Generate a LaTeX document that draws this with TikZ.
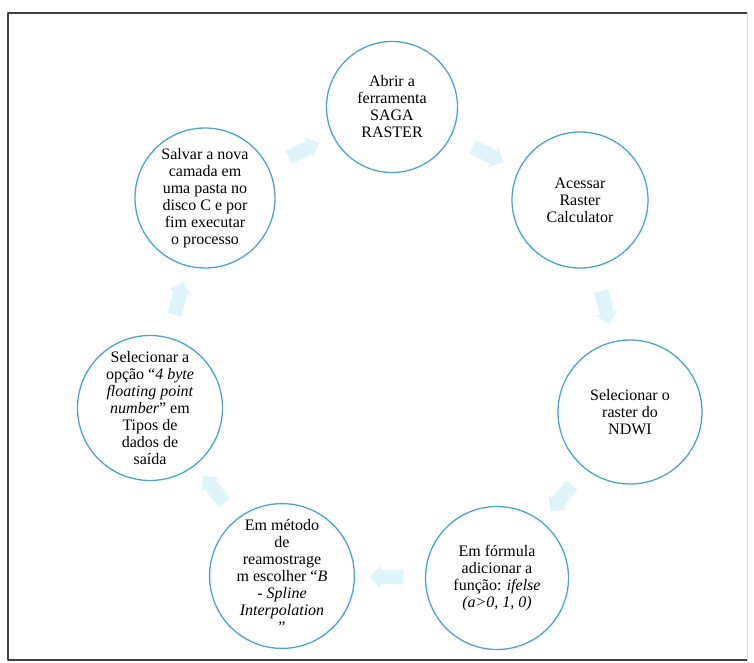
\documentclass[tikz,border=0pt]{standalone}
\usepackage{fontspec}
\setmainfont{Liberation Serif}
\usetikzlibrary{shapes.arrows}
\definecolor{contorno}{RGB}{75,165,195}
\definecolor{setacor}{RGB}{222,244,248}

\begin{document}
\begin{tikzpicture}[line cap=round,line join=round,x=1pt,y=-1pt,
    passo/.style={circle,draw=contorno,line width=1.3pt,align=center,inner sep=0pt,
      font=\fontsize{16}{17}\selectfont},
    seta/.style={single arrow,fill=setacor,minimum height=34pt,inner xsep=0pt,inner ysep=7pt,
      single arrow head extend=4pt,sloped,allow upside down,pos=0.5}]
  \useasboundingbox (0,0) rectangle (754,663);
  % moldura
  \draw[line width=1.2pt,black!75] (747,13) -- (8,13) -- (8,660) -- (747,660);
  \draw[black!15] (747,13) -- (747,660);

  \node[passo,minimum size=131pt] (abrir) at (392,107) {Abrir a\\ferramenta\\SAGA\\RASTER};
  \node[passo,minimum size=136pt] (acessar) at (580,200) {Acessar\\Raster\\Calculator};
  \node[passo,minimum size=144pt] (ndwi) at (630,412) {Selecionar o\\raster do\\NDWI};
  \node[passo,minimum size=143pt] (formula) at (497,578) {Em fórmula\\adicionar a\\função: \textit{ifelse}\\\textit{(a>0, 1, 0)}};
  \node[passo,minimum size=144pt] (metodo) at (282,576) {Em método\\de\\reamostrage\\m escolher ``\textit{B}\\\textit{- Spline}\\\textit{Interpolation}\\''};
  \node[passo,minimum size=145pt] (opcao) at (150,408) {Selecionar a\\opção ``\textit{4 byte}\\\textit{floating point}\\\textit{number}'' em\\Tipos de\\dados de\\saída};
  \node[passo,minimum size=140pt] (salvar) at (205,198) {Salvar a nova\\camada em\\uma pasta no\\disco C e por\\fim executar\\o processo};

  \foreach \a/\b in {abrir/acessar,acessar/ndwi,ndwi/formula,formula/metodo,metodo/opcao,opcao/salvar,salvar/abrir}
    \path (\a) -- node[seta] {} (\b);
\end{tikzpicture}
\end{document}
